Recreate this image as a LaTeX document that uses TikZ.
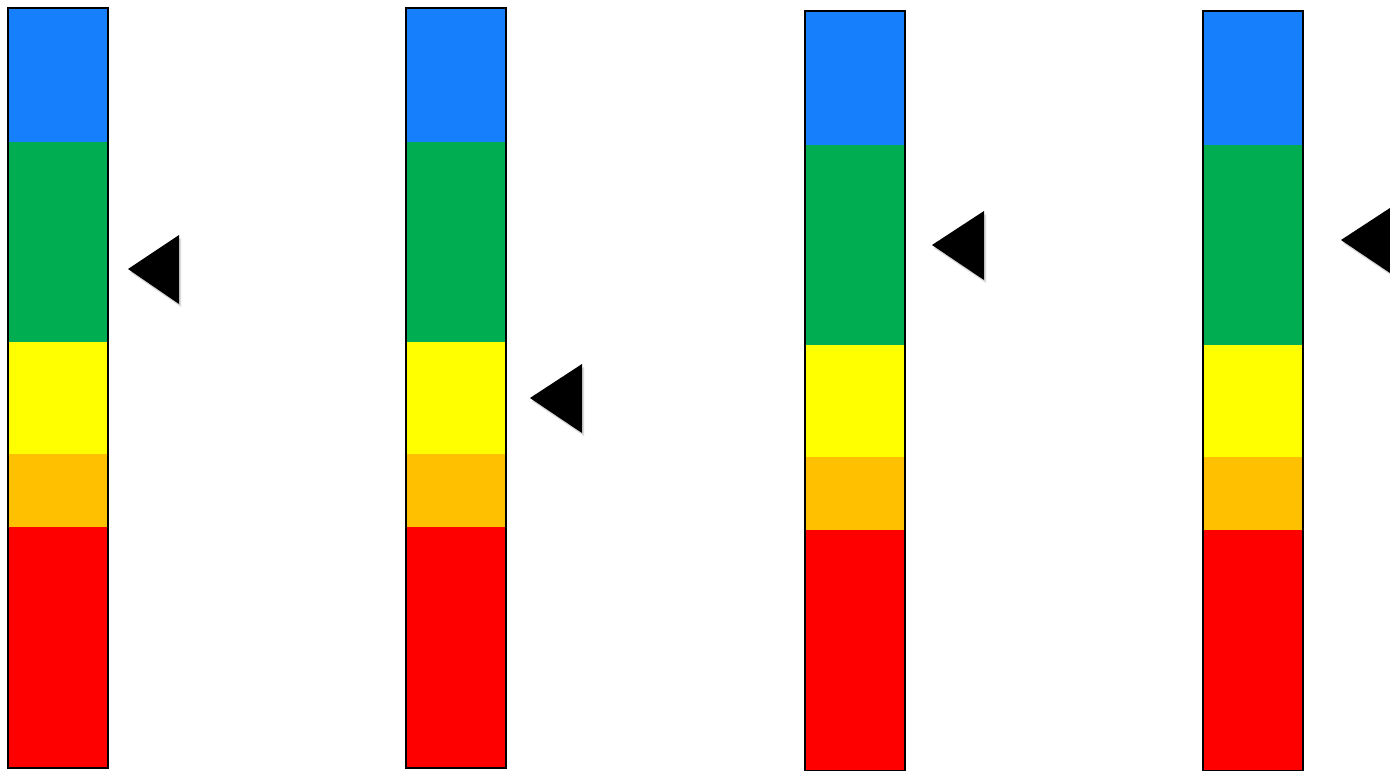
\documentclass[tikz,border=0pt]{standalone}
\usetikzlibrary{shadows}
\definecolor{barblue}{RGB}{22,127,252}
\definecolor{bargreen}{RGB}{0,173,80}
\definecolor{baryellow}{RGB}{255,255,0}
\definecolor{barorange}{RGB}{255,192,0}
\definecolor{barred}{RGB}{255,0,0}

\begin{document}
\begin{tikzpicture}[x=1pt,y=-1pt,
    marker/.style={fill=black,drop shadow={shadow xshift=2pt,shadow yshift=-3pt,opacity=0.3}},
    barframe/.style={draw=black,line width=1.6pt,drop shadow={shadow xshift=1pt,shadow yshift=-1pt,opacity=0.15}}]
      \useasboundingbox (0,0) rectangle (1390,771);
      % the four bars: left edge / top edge
      \foreach \bx/\by in {8/8, 406/8, 805/11, 1203/11} {
        \fill [barframe,fill=white] (\bx,\by) rectangle ++(100,760);
        \fill [barblue]   (\bx,\by)     rectangle ++(100,134);
        \fill [bargreen]  (\bx,\by+134) rectangle ++(100,200);
        \fill [baryellow] (\bx,\by+334) rectangle ++(100,112);
        \fill [barorange] (\bx,\by+446) rectangle ++(100,73);
        \fill [barred]    (\bx,\by+519) rectangle ++(100,241);
        \draw [draw=black,line width=1.6pt] (\bx,\by) rectangle ++(100,760);
      }
      % pointers
      \fill [marker] (128,269) -- (179,235) -- (179,304) -- cycle;
      \fill [marker] (530,398) -- (582,364) -- (582,433) -- cycle;
      \fill [marker] (932,245) -- (984,211) -- (984,280) -- cycle;
      \fill [marker] (1341,240) -- (1393,206) -- (1393,275) -- cycle;
\end{tikzpicture}
\end{document}
